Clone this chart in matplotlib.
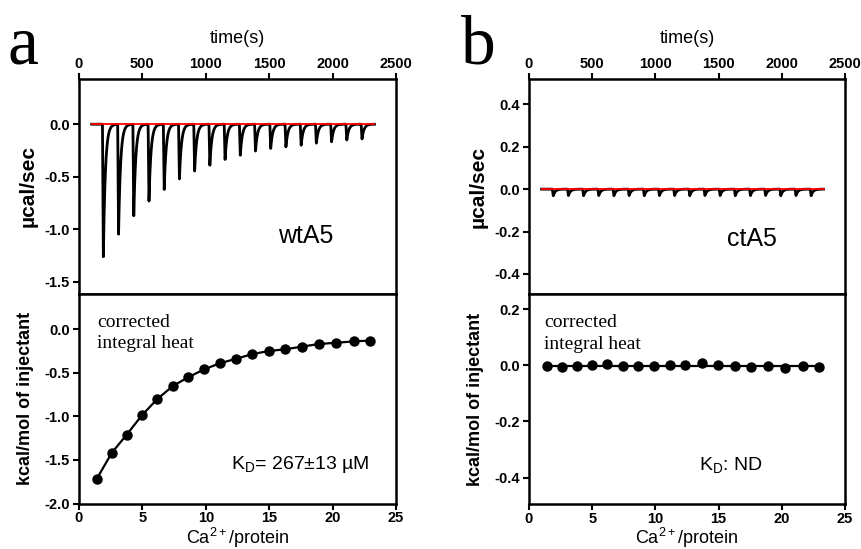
import numpy as np
import matplotlib.pyplot as plt

plt.rcParams['font.family'] = ['Liberation Sans', 'DejaVu Sans']
plt.rcParams['mathtext.fontset'] = 'custom'
plt.rcParams['mathtext.rm'] = 'Liberation Sans'
plt.rcParams['mathtext.it'] = 'Liberation Sans:italic'
plt.rcParams['mathtext.bf'] = 'Liberation Sans:bold'
plt.rcParams['axes.unicode_minus'] = False

# --- raw thermogram: injection times (s) and peak depths (ucal/sec) ---
inj_times = [185, 305, 425, 545, 665, 785, 905, 1025, 1145,
             1265, 1385, 1505, 1625, 1745, 1865, 1985, 2105, 2225]
wt_peaks = [-1.26, -1.045, -0.87, -0.73, -0.62, -0.52, -0.445, -0.39, -0.335,
            -0.295, -0.255, -0.23, -0.215, -0.20, -0.18, -0.167, -0.15, -0.14]
ct_peaks = [-0.031, -0.030, -0.031, -0.030, -0.031, -0.030, -0.031, -0.030, -0.030,
            -0.031, -0.030, -0.030, -0.031, -0.030, -0.030, -0.031, -0.030, -0.031]
run_start, run_end = 100, 2330

# --- integrated heats (kcal/mol of injectant) vs molar ratio ---
molar_ratio = [1.39, 2.58, 3.76, 4.95, 6.18, 7.42, 8.63, 9.87, 11.13,
               12.37, 13.68, 14.97, 16.26, 17.58, 18.89, 20.29, 21.66, 22.97]
wt_heat = [-1.72, -1.42, -1.21, -0.99, -0.80, -0.65, -0.55, -0.46, -0.39,
           -0.34, -0.285, -0.25, -0.23, -0.20, -0.17, -0.155, -0.14, -0.13]
ct_heat = [-0.001, -0.006, -0.001, 0.002, 0.006, -0.004, -0.004, -0.002, 0.0,
           0.002, 0.007, 0.001, -0.001, -0.005, -0.001, -0.010, -0.001, -0.005]
ct_fit = -0.001


def thermogram(t, times, depths, rise=7.0, tau=16.0):
    # sharp drop after each injection then exponential return to baseline
    y = np.zeros_like(t)
    for t0, d in zip(times, depths):
        dt = t - t0
        m1 = (dt >= 0) & (dt < rise)
        y[m1] += d * dt[m1] / rise
        m2 = dt >= rise
        y[m2] += d * np.exp(-(dt[m2] - rise) / tau)
    return y


def px(x0, y0, w, h):
    W, H = 862.0, 549.0
    return [x0 / W, 1 - (y0 + h) / H, w / W, h / H]


def style(ax):
    for s in ax.spines.values():
        s.set_linewidth(1.8)
    ax.tick_params(width=1.5, length=4.5, labelsize=10.5, pad=2, direction='out')


def bold_ticks(ax):
    for lbl in ax.get_xticklabels() + ax.get_yticklabels():
        lbl.set_fontweight('bold')


fig = plt.figure(figsize=(8.62, 5.49), dpi=100)

ax_tl = fig.add_axes(px(79, 79, 317, 214.5))
ax_bl = fig.add_axes(px(79, 293.5, 317, 210))
ax_tr = fig.add_axes(px(529, 79, 316, 215))
ax_br = fig.add_axes(px(529, 294, 316, 210))

t = np.arange(run_start, run_end + 0.5, 0.5)

panels = [
    (ax_tl, ax_bl, wt_peaks, wt_heat, 'wtA5', (-1.61, 0.43), [0.0, -0.5, -1.0, -1.5],
     (-2.0, 0.41), [0.0, -0.5, -1.0, -1.5, -2.0], r'K$_\mathrm{D}$= 267±13 µM'),
    (ax_tr, ax_br, ct_peaks, ct_heat, 'ctA5', (-0.495, 0.52), [0.4, 0.2, 0.0, -0.2, -0.4],
     (-0.494, 0.254), [0.2, 0.0, -0.2, -0.4], r'K$_\mathrm{D}$: ND'),
]

for i, (at, ab, peaks, heat, name, ylt, ytt, ylb, ytb, kd) in enumerate(panels):
    # raw heat flow
    at.plot(t, thermogram(t, inj_times, peaks), color='black', lw=2.0, zorder=2)
    at.plot([run_start, run_end], [0, 0], color='red', lw=1.3, zorder=3)
    at.set_xlim(0, 2500)
    at.set_ylim(*ylt)
    at.set_xticks([0, 500, 1000, 1500, 2000, 2500])
    at.set_yticks(ytt)
    at.set_yticklabels(['%.1f' % v for v in ytt])
    at.xaxis.tick_top()
    at.tick_params(axis='x', top=True, bottom=False, labeltop=True, labelbottom=False)
    at.tick_params(axis='y', right=False)
    style(at)
    at.tick_params(axis='x', pad=1)
    bold_ticks(at)
    at.set_xlabel('time(s)', fontsize=13)
    at.xaxis.set_label_position('top')
    at.xaxis.label.set_va('center')
    at.xaxis.set_label_coords(0.5, 1.19)
    at.set_ylabel('µcal/sec', fontsize=15, fontweight='bold')
    at.yaxis.label.set_va('center')
    at.yaxis.set_label_coords(-0.162, 0.5)
    at.text(0.627, 0.255 if i else 0.27, name, transform=at.transAxes,
            fontsize=18, ha='left', va='center')

    # integrated heats
    if i == 0:
        ab.plot(molar_ratio, heat, color='black', lw=1.6, marker='o', ms=6.5)
    else:
        ab.plot([molar_ratio[0], molar_ratio[-1]], [ct_fit, ct_fit], color='black', lw=1.6)
        ab.plot(molar_ratio, heat, 'o', color='black', ms=6.5)
    ab.set_xlim(0, 25)
    ab.set_ylim(*ylb)
    ab.set_xticks([0, 5, 10, 15, 20, 25])
    ab.set_yticks(ytb)
    ab.set_yticklabels(['%.1f' % v for v in ytb])
    ab.tick_params(axis='x', top=False)
    ab.tick_params(axis='y', right=False)
    style(ab)
    ab.tick_params(axis='x', pad=1)
    bold_ticks(ab)
    ab.set_xlabel(r'Ca$^{2+}$/protein', fontsize=13)
    ab.xaxis.label.set_va('center')
    ab.xaxis.set_label_coords(0.5, -0.163)
    ab.set_ylabel('kcal/mol of injectant', fontsize=13, fontweight='bold')
    ab.yaxis.label.set_va('center')
    ab.yaxis.set_label_coords(-0.17, 0.5)
    xl = 0.047 if i else 0.056
    ab.text(xl, 0.842, 'corrected', transform=ab.transAxes, fontsize=14,
            family='Liberation Serif', va='baseline')
    ab.text(xl, 0.739, 'integral heat', transform=ab.transAxes, fontsize=14,
            family='Liberation Serif', va='baseline')
    ab.text(0.538 if i else 0.48, 0.162, kd, transform=ab.transAxes,
            fontsize=14, va='baseline')

fig.text(7 / 862, 1 - 63 / 549, 'a', fontsize=50, family='Liberation Serif', va='baseline')
fig.text(461 / 862, 1 - 63 / 549, 'b', fontsize=50, family='Liberation Serif', va='baseline')

fig.savefig('out.png', dpi=100)
